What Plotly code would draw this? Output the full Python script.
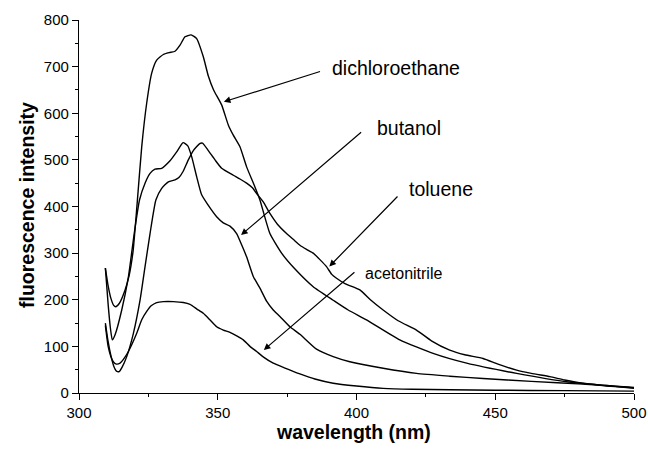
import plotly.graph_objects as go

# ---- data ----
dce_wl = [309.5, 310.5, 311.5, 312.5, 313.2, 314.5, 316.6, 318, 319.5, 321, 322.6, 324.4, 326.2, 328, 330.4,
          332.5, 334.6, 336.4, 338.2, 340.4, 342.4, 344.8, 346.6, 348.5, 351.4, 353.8, 355.6, 358, 360.4,
          363.4, 365.2, 368.8, 373, 377.5, 384.4, 391.6, 397, 403.6, 415.6, 427.6, 439.7, 457.7, 475.7, 490, 500]
dce_int = [268, 230, 203, 188, 185, 192, 221, 250, 305, 410, 528, 622, 686, 714, 726,
           730, 733, 746, 764, 768, 760, 721, 680, 650, 618, 575, 553, 528, 485,
           442, 414, 342, 300, 268, 228, 199, 178, 157, 114, 85, 64, 42, 24, 16, 11]

but_wl = [309.5, 310.5, 311.3, 312, 313, 315.4, 317.8, 319.9, 321.8, 323.8, 325.6, 327.4, 329.8, 332.8, 335.2,
          337.5, 339.2, 340.6, 342.4, 344.2, 346.3, 349.6, 352, 354.4, 356.8, 358.6, 360.4, 362.8, 365.2,
          367.6, 370, 372.4, 376, 379.6, 385.6, 391.6, 397.6, 409.6, 421.6, 433.6, 445.6, 463, 481.7, 500]
but_int = [268, 190, 140, 114, 125, 178, 249, 342, 414, 450, 471, 480, 482, 498, 517,
           537, 530, 507, 464, 425, 405, 378, 365, 358, 342, 318, 292, 250, 225,
           197, 178, 164, 142, 126, 94, 78, 67, 53, 42, 36, 31, 25, 19, 10]

tol_wl = [309.5, 310.5, 311.5, 312.5, 313.5, 314.5, 315.5, 317.2, 319.6, 322, 323.8, 325.6, 327.7, 329.8, 332.2,
          334.6, 336, 337.5, 339.4, 341.2, 343.5, 344.5, 346.6, 349, 351.4, 355.6, 358, 360.4, 362.5, 364,
          366.4, 368.8, 371.5, 374.8, 377.5, 379.6, 382, 384.4, 387, 389.2, 391, 392.8, 396, 401.2, 405,
          409.6, 415, 421.6, 427, 433.6, 439, 445.6, 451, 457.7, 463, 469.7, 475, 481.7, 490, 500]
tol_int = [150, 110, 80, 58, 47, 46, 55, 78, 128, 199, 271, 342, 414, 439, 453,
           457, 462, 475, 500, 520, 535, 536, 520, 500, 482, 467, 459, 450, 440, 428,
           410, 385, 362, 342, 328, 317, 308, 300, 285, 271, 255, 246, 234, 221, 200,
           178, 155, 135, 112, 92, 82, 74, 62, 49, 42, 35, 28, 21, 16, 12]

ace_wl = [309.5, 310.5, 311.5, 312.5, 313.5, 314.8, 316, 317.8, 320.8, 322.6, 324.4, 326, 328, 330.4, 334,
          337.6, 340, 342.5, 344.8, 347, 349.6, 352, 354.4, 357, 359.2, 361.6, 364, 366.5, 370, 374,
          379.6, 385, 391.6, 400, 409.6, 420, 433.6, 450, 475, 500]
ace_int = [145, 100, 78, 66, 62, 64, 72, 89, 128, 157, 175, 187, 194, 196, 196,
           194, 190, 180, 171, 158, 142, 135, 130, 122, 114, 100, 89, 77, 64, 54,
           41, 30, 21, 15, 10, 8, 7, 6, 5, 4]

x_ticks = [300, 350, 400, 450, 500]
y_ticks = [0, 100, 200, 300, 400, 500, 600, 700, 800]

# labels: (text, label x, label y, arrow head x, head y, tail x, tail y, font size)
labels = [
    ("dichloroethane", 390.4, 697, 352.2, 624.7, 387.4, 690.5, 19.5),
    ("butanol", 406.6, 568, 358.4, 338.8, 402.2, 561.9, 19.5),
    ("toluene", 418.2, 437.5, 390.2, 271.3, 415.3, 424.6, 19.5),
    ("acetonitrile", 402.3, 257.3, 366.6, 92.2, 399.8, 261.6, 16),
]

FONT = "Liberation Sans, Arial, sans-serif"

fig = go.Figure()
for wl, inten, name in [(dce_wl, dce_int, "dichloroethane"), (but_wl, but_int, "butanol"),
                        (tol_wl, tol_int, "toluene"), (ace_wl, ace_int, "acetonitrile")]:
    fig.add_trace(go.Scatter(x=wl, y=inten, mode="lines", name=name,
                             line=dict(color="black", width=1.4, shape="spline", smoothing=0.5),
                             showlegend=False, hoverinfo="skip"))

annotations = []
for text, lx, ly, hx, hy, tx, ty, fs in labels:
    annotations.append(dict(x=hx, y=hy, ax=tx, ay=ty, xref="x", yref="y", axref="x", ayref="y",
                            text="", showarrow=True, arrowhead=2, arrowsize=1.1, arrowwidth=1.2,
                            arrowcolor="black"))
    annotations.append(dict(x=lx, y=ly, xref="x", yref="y", text=text, showarrow=False,
                            xanchor="left", yanchor="middle",
                            font=dict(family=FONT, size=fs, color="black")))

annotations.append(dict(x=0.4937, y=-0.1046, xref="paper", yref="paper", text="<b>wavelength (nm)</b>",
                        showarrow=False, xanchor="center", yanchor="middle",
                        font=dict(family=FONT, size=19.5, color="black")))
annotations.append(dict(x=-0.0937, y=0.504, xref="paper", yref="paper", text="<b>fluorescence intensity</b>",
                        showarrow=False, xanchor="center", yanchor="middle", textangle=-90,
                        font=dict(family=FONT, size=19.5, color="black")))

fig.update_layout(
    width=648, height=450,
    margin=dict(l=79, r=14, t=20, b=57),
    paper_bgcolor="white", plot_bgcolor="white",
    font=dict(family=FONT, size=15, color="black"),
    annotations=annotations,
    hovermode=False,
    xaxis=dict(range=[300, 500], tickvals=x_ticks, ticks="outside", ticklen=6, tickwidth=1,
               tickcolor="black", showline=True, linecolor="black", linewidth=1.2,
               showgrid=False, zeroline=False, tickfont=dict(size=15), automargin=False,
               minor=dict(dtick=25, ticks="outside", ticklen=3, tickcolor="black", showgrid=False)),
    yaxis=dict(range=[0, 800], tickvals=y_ticks, ticks="outside", ticklen=6, tickwidth=1,
               tickcolor="black", showline=True, linecolor="black", linewidth=1.2,
               showgrid=False, zeroline=False, tickfont=dict(size=15), automargin=False,
               minor=dict(dtick=50, ticks="outside", ticklen=3, tickcolor="black", showgrid=False)),
)

fig.write_html("out.html", config={"displayModeBar": False},
               post_script="document.body.style.margin='0';document.body.style.overflow='hidden';")
